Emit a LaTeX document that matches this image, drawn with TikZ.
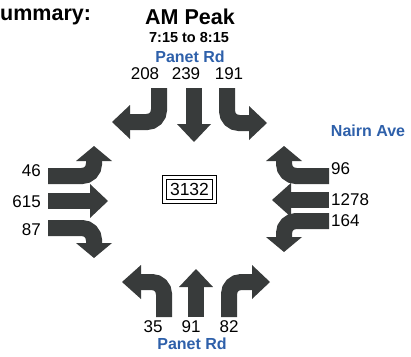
\documentclass[tikz,border=0pt]{standalone}
\usepackage{fontspec}
\setmainfont{Liberation Sans}
\definecolor{arrowgray}{RGB}{56,59,59}
\definecolor{roadblue}{RGB}{46,96,170}
\tikzset{
  shaft/.style={draw=arrowgray, line width=16pt, rounded corners=12pt},
  head/.style={fill=arrowgray},
  num/.style={font=\fontsize{17}{17}\selectfont, inner sep=0pt},
  road/.style={font=\bfseries\fontsize{16}{16}\selectfont, text=roadblue, inner sep=0pt},
  titletext/.style={font=\bfseries\fontsize{21.5}{21.5}\selectfont, inner sep=0pt},
  boxline/.style={draw=black, line width=0.9pt}
}
\begin{document}
\begin{tikzpicture}[x=1pt, y=-1pt]
\useasboundingbox (0,0) rectangle (411,356);
% titles
\node[titletext, anchor=west] (sum) at (0,17) {ummary:};
\node[titletext] (peak) at (190,17) {AM Peak};
\node[font=\bfseries\fontsize{14.5}{14.5}\selectfont, inner sep=0pt] (time) at (189,38) {7:15 to 8:15};
\node[road] (rdn) at (190,57) {Panet Rd};
\node[road] (rds) at (192,344) {Panet Rd};
\node[road] (rde) at (368,131) {Nairn Ave};
% centre box
\node[boxline, minimum width=46pt, minimum height=20pt, inner sep=0pt, font=\fontsize{17.5}{17.5}\selectfont] (tot) at (189.5,189.5) {3132};
\draw[boxline] (162.5,175.5) rectangle (216.5,203.5);
% ---- north approach ----
\draw[shaft] (159,88) -- (159,122) -- (128,122);
\fill[head] (130,105) -- (112,122) -- (130,139) -- cycle;
\draw[shaft] (194,88) -- (194,126);
\fill[head] (177,124) -- (194,142) -- (211,124) -- cycle;
\draw[shaft] (227,88) -- (227,123) -- (251,123);
\fill[head] (249,106) -- (267,123) -- (249,140) -- cycle;
\node[num] (n208) at (145,74) {208};
\node[num] (n239) at (186,74) {239};
\node[num] (n191) at (229,74) {191};
% ---- south approach ----
\draw[shaft] (164,317) -- (164,282) -- (139,282);
\fill[head] (141,265) -- (122,282) -- (141,299) -- cycle;
\draw[shaft] (196,317) -- (196,285);
\fill[head] (179,287) -- (196,269) -- (213,287) -- cycle;
\draw[shaft] (229,317) -- (229,282) -- (254,282);
\fill[head] (252,265) -- (270,282) -- (252,299) -- cycle;
\node[num] (n35) at (153,327) {35};
\node[num] (n91) at (191,327) {91};
\node[num] (n82) at (229,327) {82};
% ---- west approach ----
\draw[shaft] (48,176) -- (94,176) -- (94,158);
\fill[head] (76,161) -- (94,146) -- (112,161) -- cycle;
\draw[shaft] (48,201) -- (92,201);
\fill[head] (90,184) -- (108,201) -- (90,218) -- cycle;
\draw[shaft] (48,228) -- (94,228) -- (94,246);
\fill[head] (76,243) -- (94,258) -- (112,243) -- cycle;
\node[num, anchor=east] (n46) at (41,171) {46};
\node[num, anchor=east] (n615) at (41,202) {615};
\node[num, anchor=east] (n87) at (41,230) {87};
% ---- east approach ----
\draw[shaft] (329,176) -- (284,176) -- (284,158);
\fill[head] (266,161) -- (284,146) -- (302,161) -- cycle;
\draw[shaft] (329,200) -- (289,200);
\fill[head] (291,183) -- (272,200) -- (291,217) -- cycle;
\draw[shaft] (329,221) -- (284,221) -- (284,240);
\fill[head] (266,237) -- (284,252) -- (302,237) -- cycle;
\node[num, anchor=west] (n96) at (331,169) {96};
\node[num, anchor=west] (n1278) at (331,200) {1278};
\node[num, anchor=west] (n164) at (331,221) {164};
\end{tikzpicture}
\end{document}
